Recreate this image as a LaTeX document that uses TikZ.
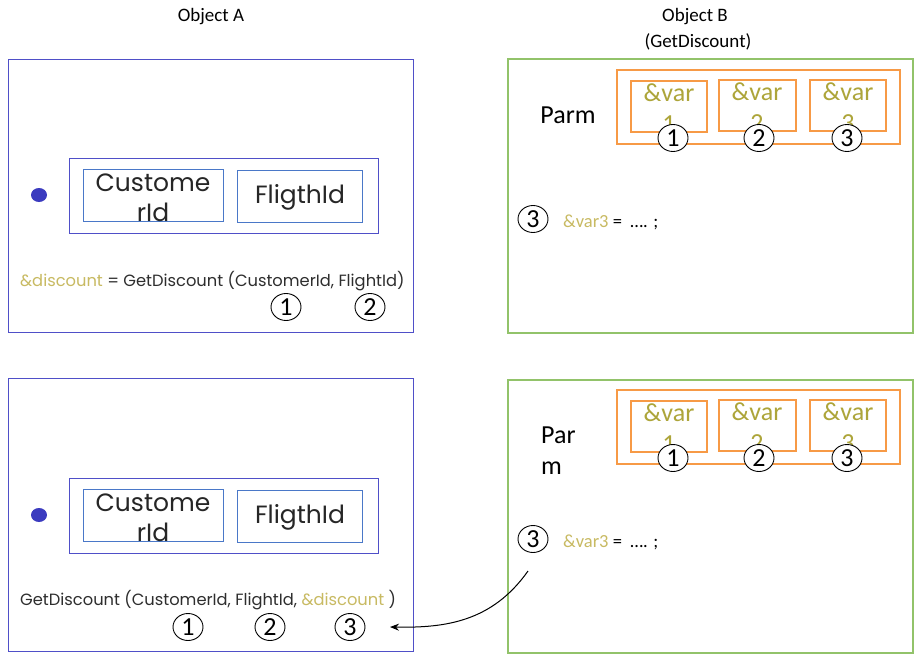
\documentclass[tikz,border=0pt]{standalone}
\usepackage{fontspec}
\setmainfont{Carlito}
\newfontfamily\gothic{Poppins}
\usetikzlibrary{arrows.meta,shapes.geometric}
\definecolor{objblue}{HTML}{4F4FC8}
\definecolor{fieldblue}{HTML}{4A78C8}
\definecolor{dotblue}{HTML}{3B3BBF}
\definecolor{objgreen}{HTML}{92C36A}
\definecolor{parmorange}{HTML}{F79A46}
\definecolor{varolive}{HTML}{ADA53A}
\definecolor{lightolive}{HTML}{C8BA62}
\definecolor{codegray}{HTML}{2E2E2E}
\tikzset{
  box/.style={draw, line width=0.9pt, inner sep=0pt, outer sep=0pt, anchor=north west},
  objbox/.style={box, draw=objblue},
  objboxB/.style={box, draw=objgreen, line width=1.1pt},
  fieldbox/.style={box, draw=fieldblue},
  orangebox/.style={box, draw=parmorange, line width=1.1pt},
  title/.style={font=\fontsize{19}{22}\selectfont, inner sep=0pt},
  fieldtext/.style={font=\gothic\fontsize{25}{28}\selectfont, text=black!85, inner sep=0pt},
  vartext/.style={font=\fontsize{26}{28}\selectfont, text=varolive, inner sep=0pt},
  parmtext/.style={font=\fontsize{26}{28}\selectfont, inner sep=0pt},
  codetext/.style={font=\gothic\fontsize{16.3}{19}\selectfont, text=codegray, inner sep=0pt, anchor=base west},
  vcode/.style={font=\fontsize{18.5}{20}\selectfont, inner sep=0pt, anchor=base west},
  num/.style={draw, fill=white, line width=0.9pt, shape=ellipse, minimum width=30pt, minimum height=27pt, inner sep=0pt, font=\fontsize{26}{26}\selectfont},
  dot/.style={fill=dotblue, shape=ellipse, minimum width=16pt, minimum height=14pt, inner sep=0pt}
}
\begin{document}
\begin{tikzpicture}[x=1pt,y=-1pt]
\useasboundingbox (0,0) rectangle (918,658);
\fill[white] (0,0) rectangle (918,658);

% titles
\node[title] (tA) at (211,17) {Object A};
\node[title] (tB) at (695,17) {Object B};
\node[title] (tB2) at (698,42) {(GetDiscount)};

% ---------- top left ----------
\node[objbox, minimum width=405pt, minimum height=273pt] (A1) at (8,59) {};
\node[objbox, minimum width=309pt, minimum height=75pt] (A1in) at (69,158) {};
\node[fieldbox, minimum width=140pt, minimum height=52pt] (A1c) at (83,169) {};
\node[fieldbox, minimum width=125pt, minimum height=52pt] (A1f) at (237,170) {};
\node[fieldtext] (A1c1) at (153,183) {Custome};
\node[fieldtext] (A1c2) at (153,212) {rId};
\node[fieldtext] (A1ft) at (300,197) {FligthId};
\node[dot] (A1dot) at (39,195) {};
\node[codetext] (A1code) at (20,286) {\textcolor{lightolive}{\&discount} = GetDiscount (CustomerId, FlightId)};
\node[num] (A1n1) at (286,307) {1};
\node[num] (A1n2) at (370,307) {2};

% ---------- top right ----------
\node[objboxB, minimum width=405pt, minimum height=274pt] (B1) at (508,59) {};
\node[parmtext] (B1parm) at (568,115) {Parm};
\node[orangebox, minimum width=283pt, minimum height=74pt] (B1o) at (617,70) {};
\node[orangebox, minimum width=76pt, minimum height=51pt] (B1v1) at (631,81) {};
\node[orangebox, minimum width=77pt, minimum height=51pt] (B1v2) at (719,80) {};
\node[orangebox, minimum width=76pt, minimum height=51pt] (B1v3) at (810,80) {};
\node[vartext] (B1t1) at (669,93) {\&var};
\node[vartext] (B1d1) at (669,124) {1};
\node[vartext] (B1t2) at (757,92) {\&var};
\node[vartext] (B1d2) at (757,123) {2};
\node[vartext] (B1t3) at (848,92) {\&var};
\node[vartext] (B1d3) at (848,123) {3};
\node[num] (B1n1) at (673,138) {1};
\node[num] (B1n2) at (759,138) {2};
\node[num] (B1n3) at (847,138) {3};
\node[num] (B1n3b) at (533,219) {3};
\node[vcode] (B1code) at (563,227) {\textcolor{lightolive}{\&var3} = \ …. ;};

% ---------- bottom left ----------
\node[objbox, minimum width=405pt, minimum height=273pt] (A2) at (8,378) {};
\node[objbox, minimum width=309pt, minimum height=75pt] (A2in) at (69,478) {};
\node[fieldbox, minimum width=140pt, minimum height=52pt] (A2c) at (83,489) {};
\node[fieldbox, minimum width=125pt, minimum height=52pt] (A2f) at (237,490) {};
\node[fieldtext] (A2c1) at (153,503) {Custome};
\node[fieldtext] (A2c2) at (153,532) {rId};
\node[fieldtext] (A2ft) at (300,517) {FligthId};
\node[dot] (A2dot) at (39,515) {};
\node[codetext] (A2code) at (20,605) {GetDiscount (CustomerId, FlightId, \textcolor{lightolive}{\&discount} )};
\node[num] (A2n1) at (188,627) {1};
\node[num] (A2n2) at (270,627) {2};
\node[num] (A2n3) at (350,627) {3};

% ---------- bottom right ----------
\node[objboxB, minimum width=405pt, minimum height=273pt] (B2) at (508,380) {};
\node[parmtext, anchor=west] (B2p1) at (541,435) {Par};
\node[parmtext, anchor=west] (B2p2) at (541,468) {m};
\node[orangebox, minimum width=283pt, minimum height=74pt] (B2o) at (617,390) {};
\node[orangebox, minimum width=76pt, minimum height=51pt] (B2v1) at (631,401) {};
\node[orangebox, minimum width=77pt, minimum height=51pt] (B2v2) at (719,400) {};
\node[orangebox, minimum width=76pt, minimum height=51pt] (B2v3) at (810,400) {};
\node[vartext] (B2t1) at (669,413) {\&var};
\node[vartext] (B2d1) at (669,444) {1};
\node[vartext] (B2t2) at (757,412) {\&var};
\node[vartext] (B2d2) at (757,443) {2};
\node[vartext] (B2t3) at (848,412) {\&var};
\node[vartext] (B2d3) at (848,443) {3};
\node[num] (B2n1) at (673,458) {1};
\node[num] (B2n2) at (759,458) {2};
\node[num] (B2n3) at (847,458) {3};
\node[num] (B2n3b) at (533,539) {3};
\node[vcode] (B2code) at (563,547) {\textcolor{lightolive}{\&var3} = \ …. ;};

% arrow
\coordinate (arrS) at (528,571);
\coordinate (arrE) at (390,627);
\draw[line width=1pt, -{Stealth[length=9pt,width=7pt]}] (arrS) .. controls (492,622) and (445,628) .. (arrE);
\end{tikzpicture}
\end{document}
